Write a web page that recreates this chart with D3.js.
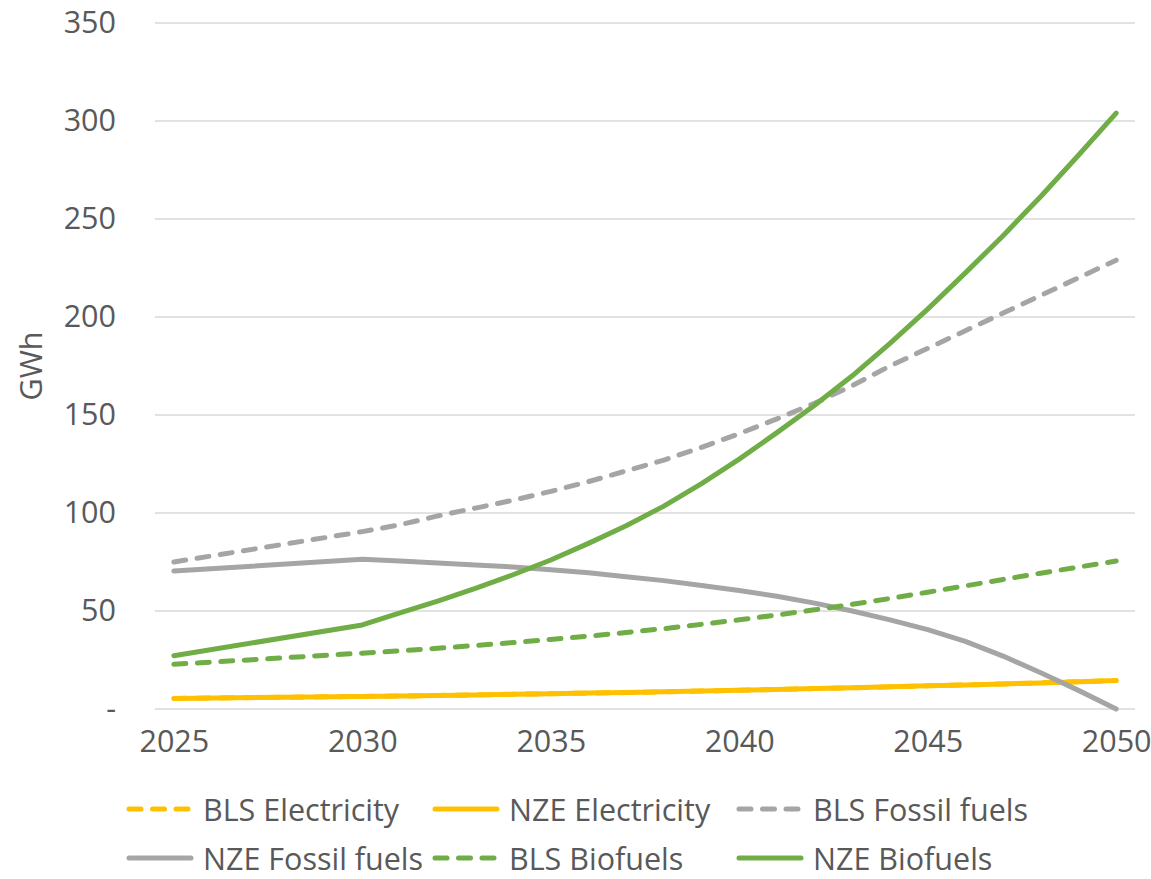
<!DOCTYPE html>
<html>
<head>
<meta charset="utf-8">
<script src="https://cdn.jsdelivr.net/npm/d3@7"></script>
<style>
  html, body { margin: 0; padding: 0; background: #ffffff; }
  svg { display: block; }
  text { font-family: "Open Sans", "Noto Sans", sans-serif; fill: #595959; }
</style>
</head>
<body>
<svg id="chart" width="1151" height="879"></svg>
<script>
// Annual energy demand by carrier, GWh
const years = [2025, 2030, 2031, 2032, 2033, 2034, 2035, 2036, 2037, 2038, 2039, 2040,
               2041, 2042, 2043, 2044, 2045, 2046, 2047, 2048, 2049, 2050];

const blsElectricity = [5.4, 6.4, 6.6, 6.9, 7.2, 7.5, 7.8, 8.1, 8.4, 8.8, 9.2, 9.6,
                        10.0, 10.4, 10.8, 11.3, 11.8, 12.3, 12.8, 13.3, 13.9, 14.5];
const nzeElectricity = [5.4, 6.4, 6.6, 6.9, 7.2, 7.5, 7.8, 8.1, 8.4, 8.8, 9.2, 9.6,
                        10.0, 10.4, 10.8, 11.3, 11.8, 12.3, 12.8, 13.3, 13.9, 14.5];
const blsFossil = [75, 90.5, 94, 98.5, 102.5, 106.5, 111, 116, 121.5, 127, 133.5, 140.5,
                   148, 156, 165, 175, 184, 193, 202, 211, 220, 229];
const nzeFossil = [70.4, 76.4, 75.5, 74.5, 73.5, 72.5, 71, 69.5, 67.5, 65.5, 63, 60.5,
                   57.5, 54, 50, 45.5, 40.5, 34.5, 27, 18.5, 9.5, 0];
const blsBiofuels = [22.8, 28.5, 29.7, 31, 32.4, 33.9, 35.5, 37.2, 39, 41, 43.2, 45.5,
                     48, 50.6, 53.4, 56.4, 59.6, 62.8, 66.1, 69.3, 72.4, 75.5];
const nzeBiofuels = [27.2, 42.9, 49, 55, 61.5, 68.5, 76, 84.5, 93.5, 103.5, 115, 127.5,
                     141, 155, 170, 186.5, 204, 222.5, 241.5, 261.5, 282.5, 304];

const seriesNames = ["BLS Electricity", "NZE Electricity", "BLS Fossil fuels",
                     "NZE Fossil fuels", "BLS Biofuels", "NZE Biofuels"];
const seriesValues = [blsElectricity, nzeElectricity, blsFossil, nzeFossil, blsBiofuels, nzeBiofuels];
const seriesColors = ["#FFC000", "#FFC000", "#A5A5A5", "#A5A5A5", "#70AD47", "#70AD47"];
const seriesDashed = [true, false, true, false, true, false];

const yTicks = [0, 50, 100, 150, 200, 250, 300, 350];
const yTickLabels = ["-", "50", "100", "150", "200", "250", "300", "350"];
const xTicks = [2025, 2030, 2035, 2040, 2045, 2050];
const yTitle = "GWh";

const svg = d3.select("#chart");
const plot = { left: 155, right: 1135, top: 23, bottom: 709 };

const x = d3.scaleLinear().domain([2024.5, 2050.5]).range([plot.left, plot.right]);
const y = d3.scaleLinear().domain([0, 350]).range([plot.bottom, plot.top]);

const fontSize = 30.5;
const lineWidth = 5;
const dash = "12,11.5";

// Horizontal gridlines
svg.append("g")
  .selectAll("line")
  .data(yTicks)
  .join("line")
  .attr("x1", plot.left).attr("x2", plot.right)
  .attr("y1", d => y(d)).attr("y2", d => y(d))
  .attr("stroke", "#D9D9D9").attr("stroke-width", 1.4);

// Y axis labels
const yAxis = d3.axisLeft(y).tickValues(yTicks)
  .tickFormat((d, i) => yTickLabels[i]).tickSize(0).tickPadding(0);
const gy = svg.append("g").attr("transform", `translate(${plot.left - 39},0)`).call(yAxis);
gy.select(".domain").remove();
gy.selectAll("text").attr("font-size", fontSize).attr("fill", "#595959")
  .attr("font-family", "'Open Sans', sans-serif");

// X axis labels
const xAxis = d3.axisBottom(x).tickValues(xTicks).tickFormat(d3.format("d"))
  .tickSize(0).tickPadding(0);
const gx = svg.append("g").attr("transform", `translate(0,${plot.bottom + 21})`).call(xAxis);
gx.select(".domain").remove();
gx.selectAll("text").attr("font-size", fontSize).attr("fill", "#595959")
  .attr("font-family", "'Open Sans', sans-serif");

// Y axis title
svg.append("text")
  .attr("transform", "translate(30,366) rotate(-90)")
  .attr("text-anchor", "middle")
  .attr("dominant-baseline", "central")
  .attr("font-size", fontSize)
  .text(yTitle);

// Series lines
const line = d3.line()
  .x(d => x(d[0]))
  .y(d => y(d[1]));

seriesValues.forEach((vals, i) => {
  const pts = years.map((yr, j) => [yr, vals[j]]);
  svg.append("path")
    .datum(pts)
    .attr("d", line)
    .attr("fill", "none")
    .attr("stroke", seriesColors[i])
    .attr("stroke-width", lineWidth)
    .attr("stroke-linecap", "round")
    .attr("stroke-linejoin", "round")
    .attr("stroke-dasharray", seriesDashed[i] ? dash : null);
});

// Legend, three entries per row
const legendCols = [127, 433, 737];
const legendRows = [809, 858];
const legend = svg.append("g");
seriesNames.forEach((name, i) => {
  const cx = legendCols[i % 3];
  const cy = legendRows[Math.floor(i / 3)];
  legend.append("line")
    .attr("x1", cx + 2).attr("x2", cx + 64)
    .attr("y1", cy).attr("y2", cy)
    .attr("stroke", seriesColors[i])
    .attr("stroke-width", lineWidth)
    .attr("stroke-linecap", "round")
    .attr("stroke-dasharray", seriesDashed[i] ? dash : null);
  legend.append("text")
    .attr("x", cx + 76).attr("y", cy)
    .attr("dominant-baseline", "central")
    .attr("font-size", fontSize)
    .text(name);
});
</script>
</body>
</html>
